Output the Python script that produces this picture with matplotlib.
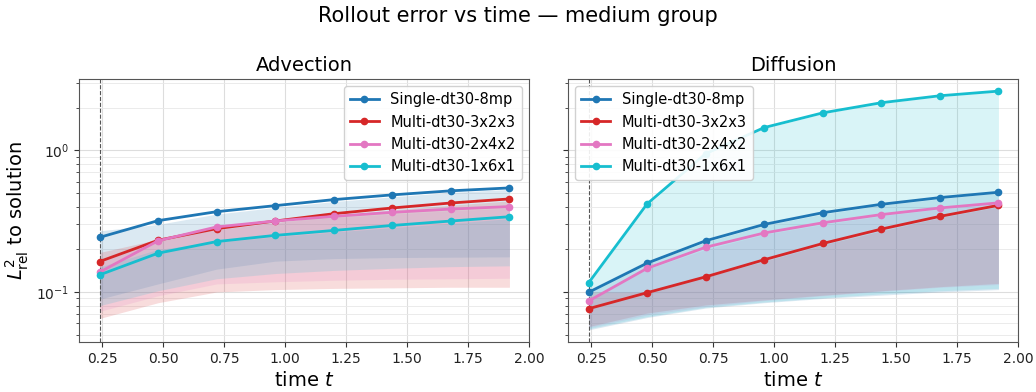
import numpy as np
import matplotlib
matplotlib.use("Agg")
import matplotlib.pyplot as plt

t = [0.24, 0.48, 0.72, 0.96, 1.20, 1.44, 1.68, 1.92]
labels = ["Single-dt30-8mp", "Multi-dt30-3x2x3", "Multi-dt30-2x4x2", "Multi-dt30-1x6x1"]
colors = ["#1f77b4", "#d62728", "#e377c2", "#17becf"]

# Advection
adv_single = [0.243, 0.319, 0.369, 0.407, 0.449, 0.485, 0.518, 0.543]
adv_m323 = [0.164, 0.232, 0.280, 0.317, 0.357, 0.392, 0.425, 0.454]
adv_m242 = [0.138, 0.230, 0.288, 0.317, 0.342, 0.365, 0.385, 0.401]
adv_m161 = [0.132, 0.188, 0.227, 0.251, 0.272, 0.295, 0.317, 0.340]

adv_single_lo = [0.089, 0.114, 0.145, 0.165, 0.172, 0.175, 0.176, 0.177]
adv_m323_lo = [0.065, 0.084, 0.100, 0.104, 0.106, 0.107, 0.108, 0.108]
adv_m242_lo = [0.073, 0.094, 0.114, 0.118, 0.121, 0.123, 0.124, 0.125]
adv_m161_lo = [0.080, 0.102, 0.124, 0.135, 0.142, 0.147, 0.151, 0.153]

adv_single_hi = [0.270, 0.300, 0.355, 0.395, 0.435, 0.470, 0.505, 0.530]
adv_m323_hi = [0.190, 0.235, 0.275, 0.310, 0.345, 0.380, 0.410, 0.440]
adv_m242_hi = [0.170, 0.235, 0.280, 0.310, 0.335, 0.355, 0.375, 0.390]
adv_m161_hi = [0.150, 0.200, 0.225, 0.245, 0.265, 0.285, 0.305, 0.330]

# Diffusion
dif_single = [0.0995, 0.160, 0.230, 0.300, 0.363, 0.416, 0.464, 0.506]
dif_m323 = [0.0762, 0.0989, 0.128, 0.169, 0.220, 0.278, 0.342, 0.409]
dif_m242 = [0.0863, 0.147, 0.207, 0.261, 0.308, 0.352, 0.392, 0.426]
dif_m161 = [0.116, 0.419, 0.947, 1.449, 1.84, 2.17, 2.43, 2.62]

dif_single_lo = [0.054, 0.066, 0.077, 0.084, 0.090, 0.095, 0.100, 0.104]
dif_m323_lo = [0.057, 0.071, 0.081, 0.088, 0.095, 0.102, 0.109, 0.115]
dif_m242_lo = [0.056, 0.069, 0.079, 0.087, 0.094, 0.101, 0.108, 0.113]
dif_m161_lo = [0.055, 0.067, 0.078, 0.085, 0.091, 0.097, 0.102, 0.106]

dif_single_hi = [0.100, 0.160, 0.225, 0.295, 0.355, 0.410, 0.455, 0.500]
dif_m323_hi = [0.100, 0.100, 0.128, 0.165, 0.215, 0.270, 0.335, 0.400]
dif_m242_hi = [0.090, 0.145, 0.200, 0.255, 0.300, 0.345, 0.385, 0.420]
dif_m161_hi = [0.115, 0.410, 0.930, 1.430, 1.820, 2.150, 2.400, 2.600]

panels = [
    ("Advection",
     [adv_single, adv_m323, adv_m242, adv_m161],
     [adv_single_lo, adv_m323_lo, adv_m242_lo, adv_m161_lo],
     [adv_single_hi, adv_m323_hi, adv_m242_hi, adv_m161_hi],
     "upper right"),
    ("Diffusion",
     [dif_single, dif_m323, dif_m242, dif_m161],
     [dif_single_lo, dif_m323_lo, dif_m242_lo, dif_m161_lo],
     [dif_single_hi, dif_m323_hi, dif_m242_hi, dif_m161_hi],
     "upper left"),
]

plt.rcParams["axes.edgecolor"] = "#555555"
plt.rcParams["xtick.color"] = "#333333"
plt.rcParams["ytick.color"] = "#333333"
plt.rcParams["xtick.labelcolor"] = "#222222"
plt.rcParams["ytick.labelcolor"] = "#222222"

fig, axes = plt.subplots(1, 2, figsize=(10.36, 3.92), dpi=100, sharey=True)
fig.subplots_adjust(left=0.0763, right=0.9826, top=0.798, bottom=0.128, wspace=0.087)

for ax, (title, means, los, his, legloc) in zip(axes, panels):
    for m, lo, hi, c, lab in zip(means, los, his, colors, labels):
        ax.fill_between(t, lo, hi, color=c, alpha=0.16, linewidth=0)
        ax.plot(t, m, "-o", color=c, lw=2, ms=4.5, label=lab, zorder=3)
    ax.axvline(0.24, color="#555555", ls="--", lw=0.8, zorder=2)
    ax.set_yscale("log")
    ax.set_xlim(0.156, 2.0)
    ax.grid(True, which="major", color="#dddddd", lw=0.8)
    ax.grid(True, which="minor", axis="y", color="#e8e8e8", lw=0.6)
    ax.set_axisbelow(True)
    ax.set_title(title, fontsize=14)
    ax.set_xlabel("time $t$", fontsize=14)
    ax.tick_params(labelsize=10)
    ax.legend(loc=legloc, fontsize=10.5, framealpha=0.9)

axes[0].set_ylabel(r"$L^2_{\mathrm{rel}}$ to solution", fontsize=14)
fig.suptitle("Rollout error vs time — medium group", fontsize=15, y=0.985)

fig.savefig("out.png", dpi=100)
